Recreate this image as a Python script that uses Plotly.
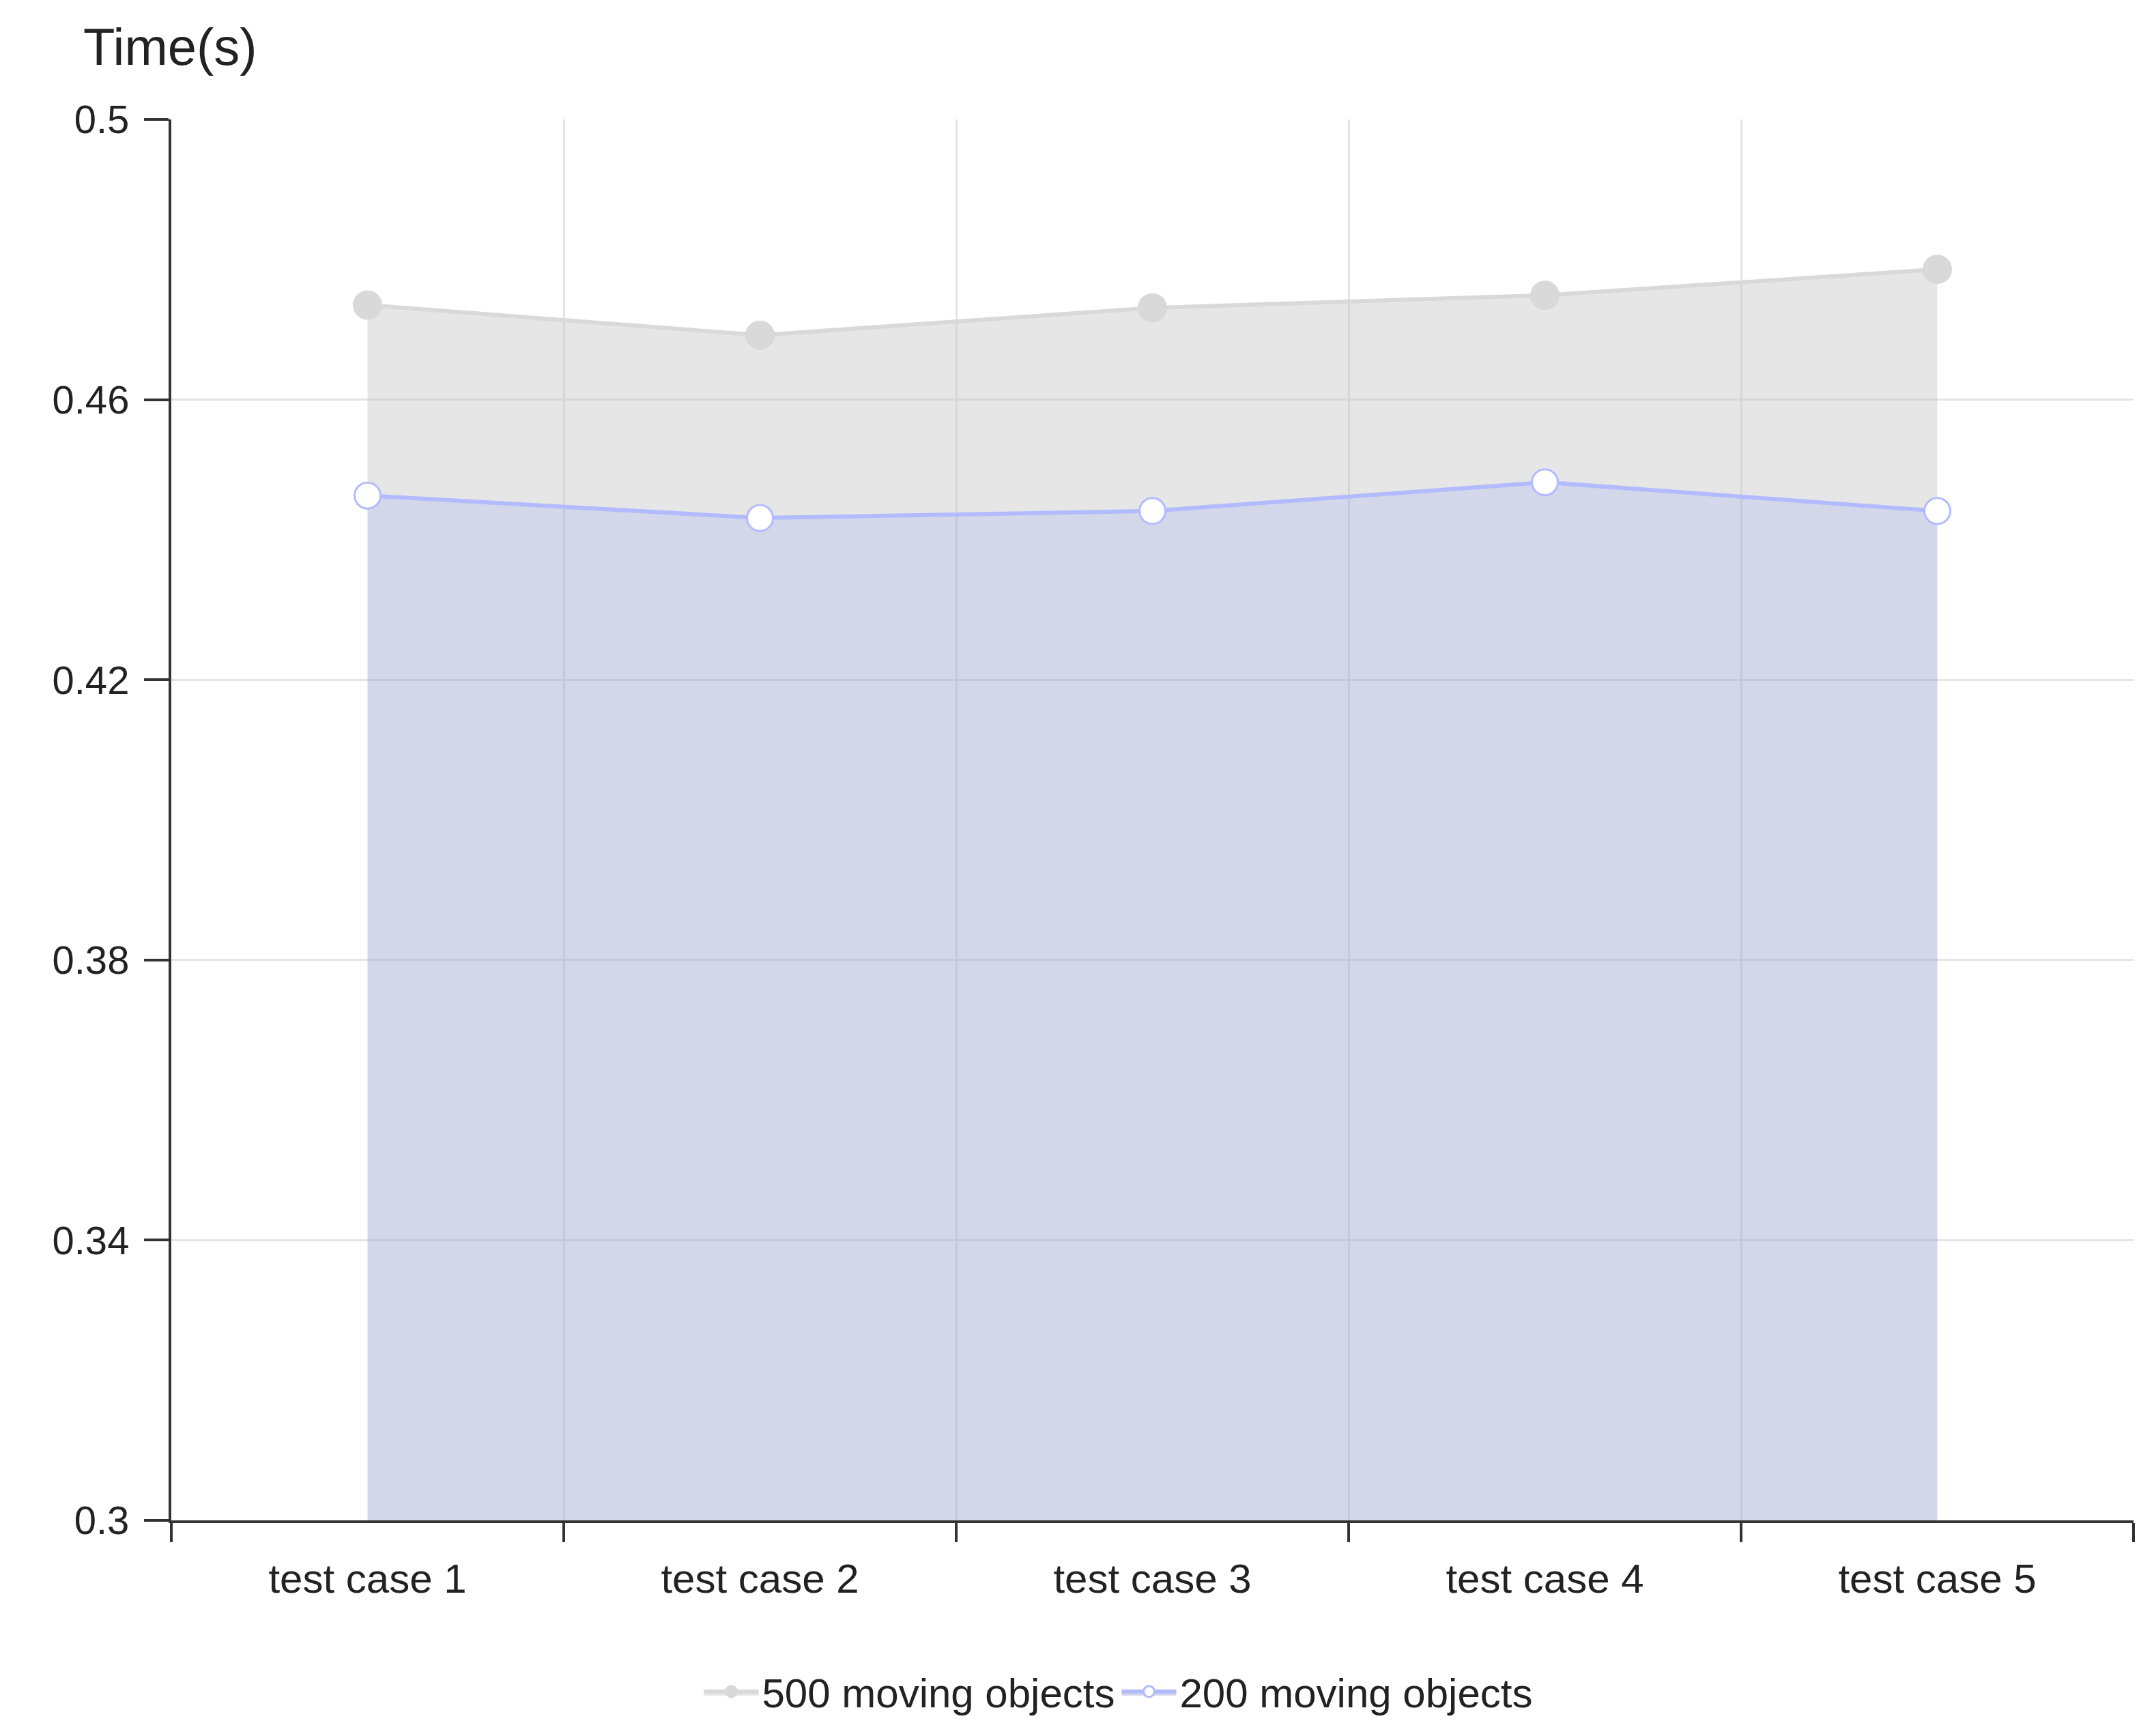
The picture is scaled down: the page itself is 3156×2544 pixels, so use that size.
import plotly.graph_objects as go

categories = ["test case 1", "test case 2", "test case 3", "test case 4", "test case 5"]
series_200 = [0.4463, 0.4431, 0.4441, 0.4482, 0.4441]
series_500 = [0.4735, 0.4692, 0.4731, 0.4749, 0.4786]
y_ticks = [0.3, 0.34, 0.38, 0.42, 0.46, 0.5]

xs = list(range(len(categories)))
fig = go.Figure()
fig.add_trace(go.Scatter(
    x=xs, y=series_200, name="200 moving objects      ", mode="lines+markers",
    fill="tozeroy", fillcolor="rgba(160,170,210,0.47)",
    line=dict(color="#b3bbff", width=6),
    marker=dict(size=38, color="white", line=dict(color="#b3bbff", width=3)),
))
fig.add_trace(go.Scatter(
    x=xs, y=series_500, name="500 moving objects", mode="lines+markers",
    fill="tonexty", fillcolor="rgba(200,200,200,0.45)",
    line=dict(color="#d9d9d9", width=6),
    marker=dict(size=40, color="#d9d9d9", line=dict(color="#d9d9d9", width=3)),
))
font = "Liberation Sans, Arial, sans-serif"
fig.update_layout(
    width=3156, height=2544, plot_bgcolor="white", paper_bgcolor="white",
    margin=dict(l=243, r=38, t=167, b=324),
    font=dict(family=font, size=58, color="#222"),
    legend=dict(orientation="h", x=0.5, xanchor="center", y=-0.1, yanchor="top",
                font=dict(size=60), itemwidth=80),
    xaxis=dict(range=[-0.5, 4.5], tickvals=[-0.5, 0.5, 1.5, 2.5, 3.5, 4.5],
               ticktext=[""] * 6, showgrid=True, gridcolor="#e4e4e4", gridwidth=3,
               showline=True, linecolor="#333", linewidth=4,
               ticks="outside", ticklen=28, tickwidth=4, tickcolor="#333", zeroline=False),
    xaxis2=dict(range=[-0.5, 4.5], overlaying="x", side="bottom", tickvals=xs,
                ticktext=categories, showgrid=False, showline=False, ticks="",
                tickfont=dict(size=60), anchor="y", zeroline=False, ticklabelstandoff=45),
    yaxis=dict(range=[0.3, 0.5], tickvals=y_ticks, ticktext=[f"{v:g}" for v in y_ticks],
               showgrid=True, gridcolor="#e4e4e4", gridwidth=3,
               showline=True, linecolor="#333", linewidth=4, ticklabelstandoff=10,
               ticks="outside", ticklen=36, tickwidth=4, tickcolor="#333", zeroline=False),
    annotations=[dict(text="Time(s)", x=-(243 - 112) / 2875, y=1 + (167 - 60) / 2053,
                      xref="paper", yref="paper", xanchor="left", yanchor="middle",
                      showarrow=False, font=dict(size=76, color="#222"))],
)
fig.add_trace(go.Scatter(x=[0], y=[0.2], xaxis="x2", showlegend=False, hoverinfo="skip"))
fig.write_html("out.html")
